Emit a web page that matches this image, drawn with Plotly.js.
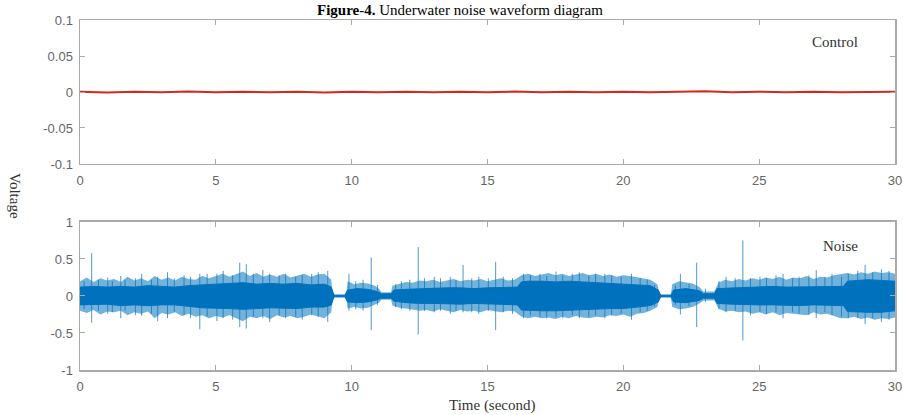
<!DOCTYPE html>
<html>
<head>
<meta charset="utf-8">
<script src="https://cdn.plot.ly/plotly-3.0.1.min.js"></script>
<style>html,body{margin:0;padding:0;background:#fff;}#chart{width:903px;height:415px;}</style>
</head>
<body>
<div id="chart"></div>
<script>
// ---------- data ----------
var xTicks = [0, 5, 10, 15, 20, 25, 30];
var ctrlTickVals = [-0.1, -0.05, 0, 0.05, 0.1];
var ctrlTickText = ["-0.1", "-0.05", "0", "0.05", "0.1"];
var noiseTickVals = [-1, -0.5, 0, 0.5, 1];
var noiseTickText = ["-1", "-0.5", "0", "0.5", "1"];

// Control signal (essentially flat near zero)
var controlT = [0,1,2,3,4,5,6,7,8,9,10,11,12,13,14,15,16,17,18,19,20,21,22,23,24,25,26,27,28,29,30];
var controlV = [0.0004,-0.0006,0.0005,-0.0003,0.0006,-0.0005,0.0003,-0.0004,0.0005,-0.0006,0.0004,
                -0.0003,0.0005,-0.0005,0.0004,-0.0004,0.0006,-0.0003,0.0004,-0.0005,0.0003,-0.0004,
                0.0005,0.0012,-0.0005,0.0004,-0.0003,0.0005,-0.0004,0.0003,0.0002];

// Noise signal: dense core envelope
var coreT  = [0,0.5,1,1.5,2,2.5,3,3.5,4,4.5,5,5.5,6,6.5,7,7.5,8,8.5,9,9.25,9.35,9.75,9.85,10.2,10.6,10.95,11.1,11.45,11.55,12,12.5,13,13.5,14,14.5,15,15.5,16.1,16.25,16.5,17,17.5,18,18.5,19,19.5,20,20.5,21,21.28,21.38,21.75,21.85,22.3,22.8,22.95,23.35,23.45,24,24.5,25,25.5,26,26.5,27,27.5,28.1,28.25,28.5,29,29.5,30];
var coreHi = [0.12,0.13,0.12,0.13,0.12,0.14,0.13,0.12,0.14,0.15,0.16,0.17,0.18,0.16,0.17,0.16,0.17,0.15,0.16,0.12,0.01,0.01,0.08,0.1,0.09,0.06,0.03,0.03,0.08,0.09,0.1,0.1,0.11,0.11,0.1,0.11,0.11,0.12,0.19,0.2,0.2,0.19,0.2,0.19,0.18,0.18,0.17,0.16,0.14,0.08,0.01,0.01,0.08,0.1,0.07,0.03,0.03,0.1,0.11,0.12,0.12,0.13,0.12,0.12,0.13,0.12,0.13,0.2,0.21,0.22,0.21,0.2];
var coreLo = [-0.12,-0.12,-0.11,-0.13,-0.12,-0.13,-0.12,-0.12,-0.14,-0.16,-0.17,-0.17,-0.18,-0.17,-0.16,-0.16,-0.17,-0.15,-0.15,-0.12,-0.01,-0.01,-0.08,-0.09,-0.08,-0.05,-0.03,-0.03,-0.07,-0.09,-0.1,-0.1,-0.1,-0.11,-0.1,-0.11,-0.11,-0.12,-0.19,-0.2,-0.2,-0.2,-0.19,-0.19,-0.18,-0.17,-0.17,-0.15,-0.13,-0.08,-0.01,-0.01,-0.08,-0.09,-0.06,-0.03,-0.03,-0.1,-0.11,-0.12,-0.12,-0.12,-0.12,-0.13,-0.12,-0.12,-0.13,-0.21,-0.21,-0.22,-0.22,-0.2];

// Noise signal: lighter fringe around the core
var haloT  = [0,0.25,0.5,0.75,1,1.25,1.5,1.75,2,2.25,2.5,2.75,3,3.25,3.5,3.75,4,4.25,4.5,4.75,5,5.25,5.5,5.75,6,6.25,6.5,6.75,7,7.25,7.5,7.75,8,8.25,8.5,8.75,9,9.25,
              9.3,9.8,
              9.85,10.1,10.35,10.6,10.85,11.0,
              11.1,11.45,
              11.5,11.75,12,12.25,12.5,12.75,13,13.25,13.5,13.75,14,14.25,14.5,14.75,15,15.25,15.5,15.75,16,
              16.25,16.5,16.75,17,17.25,17.5,17.75,18,18.25,18.5,18.75,19,19.25,19.5,19.75,20,20.25,20.5,20.75,21,21.25,
              21.35,21.75,
              21.8,22.05,22.3,22.55,22.8,
              22.95,23.35,
              23.5,23.75,24,24.25,24.5,24.75,25,25.25,25.5,25.75,26,26.25,26.5,26.75,27,27.25,27.5,27.75,28,28.25,28.5,28.75,29,29.25,29.5,29.75,30];
var haloHi = [0.2,0.25,0.19,0.24,0.21,0.23,0.19,0.26,0.21,0.24,0.2,0.27,0.22,0.25,0.21,0.26,0.23,0.22,0.27,0.24,0.27,0.3,0.26,0.29,0.33,0.27,0.31,0.26,0.29,0.26,0.3,0.25,0.28,0.3,0.26,0.29,0.3,0.22,
              0.02,0.02,
              0.2,0.16,0.18,0.17,0.14,0.1,
              0.05,0.05,
              0.14,0.17,0.19,0.18,0.21,0.2,0.22,0.19,0.21,0.23,0.2,0.22,0.21,0.23,0.2,0.22,0.24,0.21,0.22,
              0.28,0.3,0.27,0.29,0.31,0.28,0.3,0.27,0.29,0.31,0.28,0.3,0.27,0.29,0.26,0.28,0.27,0.25,0.24,0.22,0.16,
              0.02,0.02,
              0.16,0.2,0.18,0.17,0.12,
              0.06,0.06,
              0.18,0.22,0.2,0.23,0.21,0.24,0.22,0.25,0.23,0.26,0.22,0.25,0.24,0.27,0.23,0.26,0.25,0.28,0.3,0.31,0.29,0.32,0.3,0.33,0.31,0.32,0.3];
var haloLo = [-0.2,-0.23,-0.19,-0.25,-0.21,-0.22,-0.2,-0.26,-0.22,-0.24,-0.21,-0.3,-0.23,-0.25,-0.22,-0.27,-0.24,-0.28,-0.26,-0.3,-0.27,-0.29,-0.26,-0.3,-0.34,-0.28,-0.3,-0.27,-0.31,-0.26,-0.29,-0.27,-0.3,-0.28,-0.25,-0.28,-0.3,-0.22,
              -0.02,-0.02,
              -0.17,-0.15,-0.17,-0.16,-0.12,-0.09,
              -0.05,-0.05,
              -0.13,-0.16,-0.17,-0.18,-0.2,-0.19,-0.21,-0.18,-0.2,-0.22,-0.19,-0.21,-0.2,-0.22,-0.19,-0.21,-0.22,-0.2,-0.21,
              -0.28,-0.3,-0.28,-0.3,-0.29,-0.31,-0.28,-0.3,-0.27,-0.29,-0.3,-0.28,-0.29,-0.26,-0.27,-0.25,-0.28,-0.24,-0.23,-0.2,-0.15,
              -0.02,-0.02,
              -0.15,-0.18,-0.17,-0.15,-0.1,
              -0.06,-0.06,
              -0.17,-0.21,-0.2,-0.22,-0.21,-0.24,-0.22,-0.25,-0.22,-0.26,-0.23,-0.24,-0.25,-0.26,-0.22,-0.25,-0.24,-0.27,-0.3,-0.3,-0.28,-0.31,-0.29,-0.32,-0.3,-0.31,-0.29];

// Noise signal: individual peaks sticking out
var spikeT  = [0.15,0.43,0.68,1.02,1.19,1.5,1.66,2.04,2.27,2.63,2.86,3.22,3.47,3.83,4.07,4.41,4.68,5.04,5.27,5.62,5.88,6.12,6.38,6.73,6.98,7.33,7.57,7.94,8.18,8.53,8.77,9.12,
               9.9,10.15,10.42,10.72,10.95,
               11.62,11.83,12.14,12.45,12.68,13.04,13.27,13.63,13.84,14.1,14.42,14.68,15.03,15.3,15.58,15.92,
               16.33,16.58,16.93,17.18,17.52,17.77,18.12,18.38,18.73,18.98,19.32,19.57,19.92,20.3,20.62,20.88,21.15,
               21.92,22.1,22.42,22.7,23.02,23.52,23.78,24.12,24.4,24.68,25.03,25.27,25.62,25.88,26.23,26.47,26.83,27.1,27.42,27.68,28.03,28.28,28.63,28.9,29.18,29.5,29.78];
var spikeHi = [0.2,0.58,0.22,0.25,0.2,0.27,0.22,0.24,0.3,0.22,0.26,0.32,0.24,0.28,0.26,0.3,0.3,0.3,0.34,0.28,0.45,0.43,0.3,0.35,0.3,0.28,0.3,0.26,0.28,0.3,0.32,0.34,
               0.3,0.2,0.22,0.52,0.15,
               0.16,0.2,0.22,0.66,0.24,0.26,0.24,0.26,0.22,0.42,0.24,0.26,0.24,0.46,0.26,0.24,
               0.3,0.28,0.3,0.27,0.33,0.28,0.3,0.32,0.28,0.3,0.3,0.28,0.26,0.3,0.24,0.22,0.15,
               0.14,0.3,0.16,0.45,0.1,0.2,0.26,0.24,0.75,0.24,0.26,0.24,0.28,0.3,0.24,0.26,0.28,0.35,0.26,0.3,0.26,0.3,0.34,0.42,0.32,0.36,0.34];
var spikeLo = [-0.18,-0.36,-0.2,-0.24,-0.22,-0.3,-0.2,-0.26,-0.27,-0.24,-0.34,-0.3,-0.22,-0.26,-0.3,-0.45,-0.28,-0.34,-0.3,-0.32,-0.42,-0.44,-0.28,-0.3,-0.35,-0.26,-0.3,-0.28,-0.32,-0.26,-0.28,-0.35,
               -0.2,-0.18,-0.2,-0.46,-0.12,
               -0.15,-0.18,-0.2,-0.52,-0.2,-0.22,-0.2,-0.24,-0.2,-0.22,-0.22,-0.24,-0.2,-0.46,-0.22,-0.24,
               -0.3,-0.26,-0.28,-0.3,-0.28,-0.3,-0.26,-0.3,-0.28,-0.26,-0.3,-0.26,-0.24,-0.32,-0.22,-0.2,-0.14,
               -0.12,-0.25,-0.14,-0.42,-0.08,-0.18,-0.22,-0.2,-0.6,-0.26,-0.22,-0.24,-0.22,-0.3,-0.22,-0.24,-0.26,-0.3,-0.22,-0.26,-0.28,-0.3,-0.3,-0.38,-0.3,-0.35,-0.32];

// ---------- build traces ----------
var blue = "#0072BD";
function poly(t, hi, lo) {
  return {x: t.concat(t.slice().reverse()), y: hi.concat(lo.slice().reverse())};
}
var corePoly = poly(coreT, coreHi, coreLo);
var haloPoly = poly(haloT, haloHi, haloLo);

var spX = [], spY = [];
for (var i = 0; i < spikeT.length; i++) {
  spX.push(spikeT[i], spikeT[i], null);
  spY.push(spikeLo[i], spikeHi[i], null);
}

var traces = [
  {x: controlT, y: controlV, xaxis: "x", yaxis: "y", type: "scatter", mode: "lines",
   line: {color: "#d9261c", width: 2}, hoverinfo: "skip"},
  {x: haloPoly.x, y: haloPoly.y, xaxis: "x2", yaxis: "y2", type: "scatter", mode: "lines",
   fill: "toself", fillcolor: "rgba(0,114,189,0.55)", line: {width: 0}, hoverinfo: "skip"},
  {x: spX, y: spY, xaxis: "x2", yaxis: "y2", type: "scatter", mode: "lines",
   line: {color: blue, width: 1}, opacity: 0.7, hoverinfo: "skip"},
  {x: corePoly.x, y: corePoly.y, xaxis: "x2", yaxis: "y2", type: "scatter", mode: "lines",
   fill: "toself", fillcolor: blue, line: {color: blue, width: 1}, hoverinfo: "skip"}
];

var tickFont = {family: "Liberation Sans, Arial, sans-serif", size: 13, color: "#666"};
var serif = "Liberation Serif, Times New Roman, serif";
function xAx(anchor) {
  return {anchor: anchor, domain: [0, 1], range: [0, 30], tickvals: xTicks, ticktext: xTicks.map(String),
    ticks: "inside", ticklen: 5, tickcolor: "#aaa", tickwidth: 1, mirror: "ticks", showline: true,
    linecolor: "#aaa", linewidth: 1.5, showgrid: false, zeroline: false, tickfont: tickFont,
    ticklabelstandoff: 4, fixedrange: true};
}
function yAx(anchor, dom, rng, vals, txt) {
  return {anchor: anchor, domain: dom, range: rng, tickvals: vals, ticktext: txt,
    ticks: "inside", ticklen: 5, tickcolor: "#aaa", tickwidth: 1, mirror: "ticks", showline: true,
    linecolor: "#aaa", linewidth: 1.5, showgrid: false, zeroline: false, tickfont: tickFont,
    ticklabelstandoff: 3, fixedrange: true};
}

var layout = {
  width: 903, height: 415,
  margin: {l: 80, r: 8, t: 20, b: 45},
  paper_bgcolor: "#fff", plot_bgcolor: "#fff",
  showlegend: false,
  xaxis: xAx("y"),
  yaxis: yAx("x", [0.5886, 1], [-0.1, 0.1], ctrlTickVals, ctrlTickText),
  xaxis2: xAx("y2"),
  yaxis2: yAx("x2", [0, 0.4229], [-1, 1], noiseTickVals, noiseTickText),
  annotations: [
    {text: "<b>Figure-4.</b> Underwater noise waveform diagram", xref: "paper", yref: "paper",
     x: 0.466, y: 1 + 20/350, xanchor: "center", yanchor: "top", showarrow: false,
     font: {family: serif, size: 15, color: "#000"}},
    {text: "Control", xref: "x", yref: "y", x: 27.8, y: 0.07, xanchor: "center", yanchor: "middle",
     showarrow: false, font: {family: serif, size: 15, color: "#333"}},
    {text: "Noise", xref: "x2", yref: "y2", x: 28, y: 0.68, xanchor: "center", yanchor: "middle",
     showarrow: false, font: {family: serif, size: 15, color: "#333"}},
    {text: "Voltage", xref: "paper", yref: "paper", x: -65/815, y: (370-196)/350, xanchor: "center",
     yanchor: "middle", textangle: 90, showarrow: false, font: {family: serif, size: 15, color: "#333"}},
    {text: "Time (second)", xref: "paper", yref: "paper", x: (493-80)/815, y: -(405-370)/350,
     xanchor: "center", yanchor: "middle", showarrow: false, font: {family: serif, size: 15, color: "#333"}}
  ]
};

Plotly.newPlot("chart", traces, layout, {displayModeBar: false, staticPlot: true});
</script>
</body>
</html>
